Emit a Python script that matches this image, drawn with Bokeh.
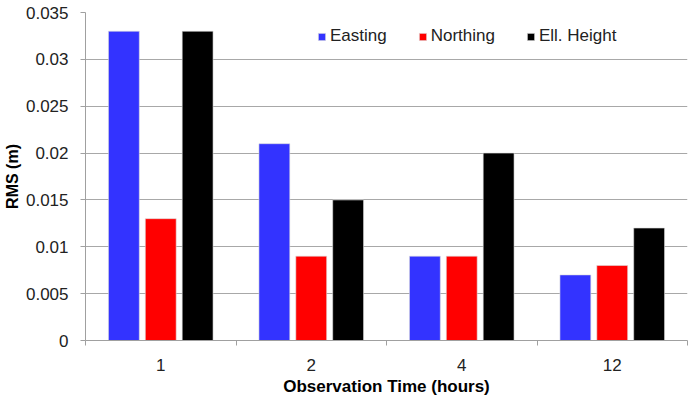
from bokeh.plotting import figure
from bokeh.models import FixedTicker, Range1d, Legend, LegendItem, ColumnDataSource
from bokeh.embed import file_html
from bokeh.resources import INLINE

categories = ["1", "2", "4", "12"]
easting = [0.033, 0.021, 0.009, 0.007]
northing = [0.013, 0.009, 0.009, 0.008]
ell_height = [0.033, 0.015, 0.020, 0.012]
series_names = ["Easting", "Northing", "Ell. Height"]
series_colors = ["#3333FF", "#FF0000", "#000000"]
y_ticks = [0, 0.005, 0.01, 0.015, 0.02, 0.025, 0.03, 0.035]
y_tick_labels = ["0", "0.005", "0.01", "0.015", "0.02", "0.025", "0.03", "0.035"]

FONT = "Liberation Sans"

p = figure(width=693, height=400, output_backend="svg", toolbar_location=None,
           x_range=Range1d(0, len(categories)), y_range=Range1d(0, 0.035),
           min_border_left=80, min_border_right=6, min_border_top=12, min_border_bottom=60)
p.outline_line_color = None
p.background_fill_color = "white"
p.border_fill_color = "white"

centers = [i + 0.5 for i in range(len(categories))]
offsets = [-0.245, 0.0, 0.245]
bw = 0.205
renderers = []
for vals, off, col in zip([easting, northing, ell_height], offsets, series_colors):
    src = ColumnDataSource(dict(x=[c + off for c in centers], top=vals))
    r = p.vbar(x="x", top="top", width=bw, source=src, fill_color=col,
               line_color="#dddddd", line_width=0.6)
    renderers.append(r)

# x axis
p.xaxis.ticker = FixedTicker(ticks=centers, minor_ticks=list(range(len(categories) + 1)))
p.xaxis.major_label_overrides = {c: lab for c, lab in zip(centers, categories)}
p.xaxis.major_tick_line_color = None
p.xaxis.minor_tick_line_color = "#a0a0a0"
p.xaxis.minor_tick_out = 5
p.xaxis.minor_tick_in = 0
p.xaxis.axis_line_color = "#a0a0a0"
p.xaxis.major_label_standoff = 12
p.xaxis.major_label_text_font = FONT
p.xaxis.major_label_text_font_size = "17px"
p.xaxis.major_label_text_color = "#222222"
p.xaxis.axis_label = "Observation Time (hours)"
p.xaxis.axis_label_text_font = FONT
p.xaxis.axis_label_text_font_style = "bold"
p.xaxis.axis_label_text_font_size = "17px"
p.xaxis.axis_label_text_color = "#000000"
p.xaxis.axis_label_standoff = 3

# y axis
p.yaxis.ticker = FixedTicker(ticks=y_ticks)
p.yaxis.major_label_overrides = {t: lab for t, lab in zip(y_ticks, y_tick_labels)}
p.yaxis.minor_tick_line_color = None
p.yaxis.major_tick_line_color = "#a0a0a0"
p.yaxis.major_tick_out = 5
p.yaxis.major_tick_in = 0
p.yaxis.axis_line_color = "#a0a0a0"
p.yaxis.major_label_standoff = 12
p.yaxis.major_label_text_font = FONT
p.yaxis.major_label_text_font_size = "17px"
p.yaxis.major_label_text_color = "#222222"
p.yaxis.axis_label = "RMS (m)"
p.yaxis.axis_label_text_font = FONT
p.yaxis.axis_label_text_font_style = "bold"
p.yaxis.axis_label_text_font_size = "16px"
p.yaxis.axis_label_text_color = "#000000"
p.yaxis.axis_label_standoff = 2

p.xgrid.grid_line_color = None
p.ygrid.grid_line_color = "#a8a8a8"
p.ygrid.grid_line_width = 1

legend = Legend(items=[LegendItem(label=n, renderers=[r]) for n, r in zip(series_names, renderers)],
                orientation="horizontal")
legend.background_fill_alpha = 0
legend.border_line_color = None
legend.label_text_font = FONT
legend.label_text_font_size = "17px"
legend.label_text_color = "#222222"
legend.glyph_width = 9
legend.glyph_height = 9
legend.label_standoff = 4
legend.spacing = 31
legend.margin = 0
legend.padding = 0
legend.location = (232, 294)
p.add_layout(legend)

open("out.html", "w").write(file_html(p, INLINE))
